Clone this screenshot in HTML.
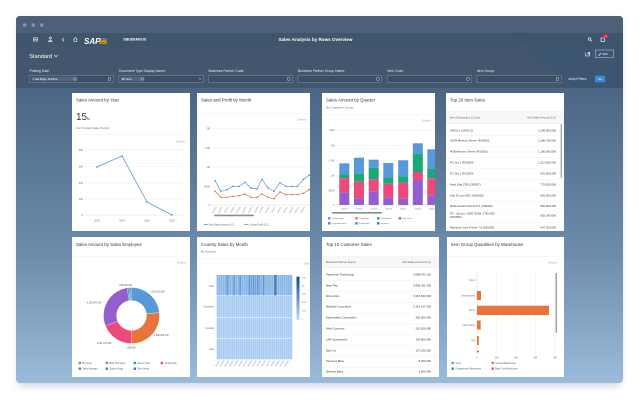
<!DOCTYPE html>
<html><head><meta charset="utf-8">
<style>
html,body{margin:0;padding:0;background:#fff;width:640px;height:400px;overflow:hidden}
svg{display:block}
text{font-family:"Liberation Sans",sans-serif}
.t{font-size:4.4px;fill:#32363a}
.s{font-size:3.1px;fill:#6a6d70}
.ax{font-size:2.5px;fill:#6a6d70}
.d{font-size:3px;fill:#8db0d6}
.lb{font-size:3.4px;fill:#e3e9ef}
.tb{font-size:2.8px;fill:#32363a}
.th{font-size:2.8px;fill:#5b5e61}
.lg{font-size:2.4px;fill:#5b5e61}
.gl{stroke:#e8e8e8;stroke-width:.4}
.rl{stroke:#ececec;stroke-width:.4}
</style></head><body>
<svg width="640" height="400" viewBox="0 0 640 400" xmlns="http://www.w3.org/2000/svg">
<defs>
 <filter id="sh" x="-10%" y="-10%" width="120%" height="130%"><feGaussianBlur stdDeviation="4"/></filter>
 <linearGradient id="cg" gradientUnits="userSpaceOnUse" x1="0" y1="88" x2="0" y2="383">
  <stop offset="0" stop-color="#4b6684"/>
  <stop offset="0.55" stop-color="#6c8bab"/>
  <stop offset="1" stop-color="#9abbd9"/>
 </linearGradient>
 <linearGradient id="hg" x1="0" y1="0" x2="0" y2="1">
  <stop offset="0" stop-color="#0b4a9a"/><stop offset="1" stop-color="#c4dcf6"/>
 </linearGradient>
 <clipPath id="win"><rect x="16" y="16" width="607" height="367" rx="4"/></clipPath>
 <clipPath id="c2"><rect x="197" y="93" width="113" height="138"/></clipPath>
 <clipPath id="c3"><rect x="322" y="93" width="113" height="138"/></clipPath>
 <clipPath id="c4"><rect x="446" y="93" width="118" height="138"/></clipPath>
 <clipPath id="c6"><rect x="197" y="237" width="113" height="140"/></clipPath>
 <pattern id="vl" x="216.7" y="0" width="2.1" height="10" patternUnits="userSpaceOnUse"><rect x="1.75" y="0" width="0.35" height="10" fill="#fff" opacity=".6"/></pattern>
</defs>

<!-- window shadow -->
<rect x="18" y="20" width="603" height="366" rx="5" fill="#8ea3b8" opacity=".45" filter="url(#sh)"/>

<g clip-path="url(#win)">
 <rect x="16" y="16" width="607" height="367" fill="url(#cg)"/>
 <rect x="16" y="16" width="607" height="72" fill="#42576e"/>
 <polygon points="515,33 623,33 623,88 575,88 540,60" fill="#3a5472" opacity=".7"/>
 <rect x="16" y="16" width="607" height="17" fill="#4c6178"/>
 <rect x="16" y="33" width="607" height="13" fill="#3e5369" opacity=".6"/>
</g>

<!-- title bar dots -->
<circle cx="24.7" cy="25" r="1.8" fill="#8796a8"/>
<circle cx="33.3" cy="25" r="1.8" fill="#8796a8"/>
<circle cx="41.7" cy="25" r="1.8" fill="#8796a8"/>

<!-- shell bar -->
<g stroke="#fff" stroke-width=".6" fill="none">
 <rect x="33.6" y="37.8" width="3.8" height="3.2"/>
 <line x1="33.6" y1="39.2" x2="37.4" y2="39.2"/>
 <circle cx="50.3" cy="38" r="1.1"/>
 <path d="M48.4,41.6 Q50.3,38.6 52.2,41.6 Z"/>
 <polyline points="64,37.8 62.3,39.6 64,41.4"/>
 <path d="M73.5,39.5 L75.4,37.6 L77.3,39.5 M74,39.2 V41.5 H76.8 V39.2"/>
</g>
<text x="84" y="44" font-size="8" font-weight="bold" fill="#fff" font-style="italic">SAP</text>
<text x="100" y="39.6" font-size="1.8" fill="#e8eef4">Business</text>
<rect x="99.6" y="40.4" width="7" height="3.6" fill="#f0ab00"/>
<text x="100.2" y="43.4" font-size="3" fill="#2a3440" font-weight="bold">One</text>
<text x="123.3" y="40.6" font-size="3.5" font-weight="bold" fill="#fff">SBODEMOUS</text>
<text x="315.5" y="41.2" font-size="4.6" font-weight="bold" fill="#fff" text-anchor="middle">Sales Analysis by Rows Overview</text>
<g stroke="#fff" stroke-width=".6" fill="none">
 <circle cx="589.6" cy="39" r="1.3"/>
 <line x1="590.6" y1="40" x2="592" y2="41.4"/>
 <rect x="601" y="38" width="3.4" height="3.6"/>
 <polyline points="585.5,52.6 585.5,56 589.5,56 589.5,54"/>
 <polyline points="587.5,52.4 589.8,52.4 589.8,54.6"/>
 <line x1="587.5" y1="54.6" x2="589.8" y2="52.4"/>
</g>
<circle cx="605.7" cy="36" r="2.3" fill="#e0262f"/>
<text x="605.7" y="36.8" font-size="1.9" fill="#fff" text-anchor="middle">99</text>
<rect x="595.3" y="50" width="18" height="7.3" fill="none" stroke="#c3cfdb" stroke-width=".5"/>
<path d="M598.5,55.8 L601,53.2" stroke="#fff" stroke-width=".7"/>
<text x="602.5" y="55" font-size="3" fill="#fff">Edit</text>

<text x="29.3" y="58.2" font-size="5.6" fill="#fff">Standard</text>
<polyline points="54.3,55 56,56.8 57.7,55" fill="none" stroke="#fff" stroke-width=".6"/>

<!-- filters -->
<text x="29.5" y="72" class="lb">Posting Date:</text>
<text x="119" y="72" class="lb">Document Type Display Name:</text>
<text x="208.5" y="72" class="lb">Business Partner Code:</text>
<text x="298" y="72" class="lb">Business Partner Group Name:</text>
<text x="387.5" y="72" class="lb">Item Code:</text>
<text x="477" y="72" class="lb">Item Group:</text>
<g fill="#3a4e64" stroke="#8799ad" stroke-width=".45">
 <rect x="29.3" y="75.5" width="84.5" height="7"/>
 <rect x="119" y="75.5" width="84.5" height="7"/>
 <rect x="208.5" y="75.5" width="84" height="7"/>
 <rect x="298" y="75.5" width="83.5" height="7"/>
 <rect x="387.3" y="75.5" width="84.5" height="7"/>
 <rect x="477" y="75.5" width="84.5" height="7"/>
</g>
<rect x="31.3" y="76.8" width="46" height="4.4" rx="1" fill="#52677e"/>
<text x="32.5" y="80" font-size="2.4" fill="#fff">1 Year Begin - Month E...</text>
<circle cx="75" cy="79" r="1.2" fill="none" stroke="#dfe6ee" stroke-width=".4"/>
<rect x="120.5" y="76.8" width="24" height="4.4" rx="1" fill="#52677e"/>
<text x="121.8" y="80" font-size="2.4" fill="#fff">bill: docu...</text>
<circle cx="142.3" cy="79" r="1.2" fill="none" stroke="#dfe6ee" stroke-width=".4"/>
<polyline points="198.5,78.2 200,79.6 201.5,78.2" fill="none" stroke="#dfe6ee" stroke-width=".5"/>
<g fill="none" stroke="#dfe6ee" stroke-width=".45">
 <rect x="108.2" y="77.4" width="2.6" height="3" rx=".8"/>
 <rect x="287.4" y="77.4" width="2.6" height="3" rx=".8"/>
 <rect x="376.6" y="77.4" width="2.6" height="3" rx=".8"/>
 <rect x="466.6" y="77.4" width="2.6" height="3" rx=".8"/>
 <rect x="556.2" y="77.4" width="2.6" height="3" rx=".8"/>
</g>
<text x="568.3" y="80" font-size="3.2" fill="#e3e9ef">Adapt Filters:</text>
<rect x="595" y="75.7" width="10.2" height="6.6" fill="#3b8ad8"/>
<text x="600.1" y="80.1" font-size="2.9" fill="#fff" text-anchor="middle">Go</text>

<!-- ============ CARD 1 ============ -->
<rect x="72" y="93" width="118" height="138" fill="#fff"/>
<text x="76" y="101.7" class="t">Sales Amount by Year</text>
<text x="76" y="120" font-size="10" fill="#32363a">15</text>
<text x="87" y="120" font-size="3.2" fill="#32363a">M</text>
<text x="76" y="129" class="s">For Posting Date Period</text>
<line x1="72" y1="134.5" x2="190" y2="134.5" class="rl"/>
<text x="185" y="142.5" class="d" text-anchor="end">Details</text>
<g class="gl"><line x1="85" y1="150" x2="184" y2="150"/><line x1="85" y1="166.7" x2="184" y2="166.7"/><line x1="85" y1="183" x2="184" y2="183"/><line x1="85" y1="199" x2="184" y2="199"/></g>
<line x1="85" y1="215" x2="184" y2="215" stroke="#d5d5d5" stroke-width=".4"/>
<g class="ax" text-anchor="end"><text x="83" y="151">800</text><text x="83" y="167.7">600</text><text x="83" y="184">400</text><text x="83" y="200">200</text><text x="83" y="216">0</text></g>
<polyline points="97,167 122,156 147,202 172,215" fill="none" stroke="#5899da" stroke-width=".8"/>
<g fill="#5899da"><circle cx="97" cy="167" r=".9"/><circle cx="122" cy="156" r=".9"/><circle cx="147" cy="202" r=".9"/><circle cx="172" cy="215" r=".9"/></g>
<g class="ax" text-anchor="middle"><text x="97" y="221.5">2018</text><text x="122" y="221.5">2019</text><text x="147" y="221.5">2020</text><text x="172" y="221.5">2021</text></g>

<!-- ============ CARD 2 ============ -->
<rect x="197" y="93" width="113" height="138" fill="#fff"/>
<g clip-path="url(#c2)">
<text x="201" y="101.7" class="t">Sales and Profit by Month</text>
<line x1="197" y1="113.5" x2="310" y2="113.5" class="rl"/>
<text x="306" y="120.5" class="d" text-anchor="end">Details</text>
<g class="gl"><line x1="212" y1="128.7" x2="310" y2="128.7"/><line x1="212" y1="148" x2="310" y2="148"/><line x1="212" y1="167" x2="310" y2="167"/><line x1="212" y1="186.7" x2="310" y2="186.7"/></g>
<line x1="212" y1="205" x2="310" y2="205" stroke="#d5d5d5" stroke-width=".4"/>
<g class="ax" text-anchor="end"><text x="210" y="129.7">2M</text><text x="210" y="149">1.5M</text><text x="210" y="168">1M</text><text x="210" y="187.7">500K</text><text x="210" y="206">0</text></g>
<polyline points="215,180.7 221,191.3 227,189.7 233,186.3 239,186.3 245,182.3 251,188 257,189 262,179.3 268,188 274,191.3 280,182.7 286,186.3 292,186.3 297.5,186.3 303.5,179.3 309,175.3 313,172" fill="none" stroke="#5899da" stroke-width=".7"/>
<g fill="#5899da"><circle cx="215" cy="180.7" r=".85"/><circle cx="221" cy="191.3" r=".85"/><circle cx="227" cy="189.7" r=".85"/><circle cx="233" cy="186.3" r=".85"/><circle cx="239" cy="186.3" r=".85"/><circle cx="245" cy="182.3" r=".85"/><circle cx="251" cy="188" r=".85"/><circle cx="257" cy="189" r=".85"/><circle cx="262" cy="179.3" r=".85"/><circle cx="268" cy="188" r=".85"/><circle cx="274" cy="191.3" r=".85"/><circle cx="280" cy="182.7" r=".85"/><circle cx="286" cy="186.3" r=".85"/><circle cx="292" cy="186.3" r=".85"/><circle cx="297.5" cy="186.3" r=".85"/><circle cx="303.5" cy="179.3" r=".85"/><circle cx="309" cy="175.3" r=".85"/></g>
<polyline points="215,191.3 221,197.3 227,197.3 233,196.3 239,195.7 245,194 251,197.3 257,197.3 262,194 268,197.3 274,198.7 280,192 286,194.7 292,194.7 297.5,194.7 303.5,193.3 309,189.7 313,187" fill="none" stroke="#e8743b" stroke-width=".7"/>
<g fill="#e8743b"><circle cx="215" cy="191.3" r=".85"/><circle cx="221" cy="197.3" r=".85"/><circle cx="227" cy="197.3" r=".85"/><circle cx="233" cy="196.3" r=".85"/><circle cx="239" cy="195.7" r=".85"/><circle cx="245" cy="194" r=".85"/><circle cx="251" cy="197.3" r=".85"/><circle cx="257" cy="197.3" r=".85"/><circle cx="262" cy="194" r=".85"/><circle cx="268" cy="197.3" r=".85"/><circle cx="274" cy="198.7" r=".85"/><circle cx="280" cy="192" r=".85"/><circle cx="286" cy="194.7" r=".85"/><circle cx="292" cy="194.7" r=".85"/><circle cx="297.5" cy="194.7" r=".85"/><circle cx="303.5" cy="193.3" r=".85"/><circle cx="309" cy="189.7" r=".85"/></g>
<g font-size="1.9" fill="#777" text-anchor="end">
<text transform="translate(216.5,207.3) rotate(-60)">2019/01</text>
<text transform="translate(222.5,207.3) rotate(-60)">2019/02</text>
<text transform="translate(228.5,207.3) rotate(-60)">2019/03</text>
<text transform="translate(234.5,207.3) rotate(-60)">2019/04</text>
<text transform="translate(240.5,207.3) rotate(-60)">2019/05</text>
<text transform="translate(246.5,207.3) rotate(-60)">2019/06</text>
<text transform="translate(252.5,207.3) rotate(-60)">2019/07</text>
<text transform="translate(258.5,207.3) rotate(-60)">2019/08</text>
<text transform="translate(263.5,207.3) rotate(-60)">2019/09</text>
<text transform="translate(269.5,207.3) rotate(-60)">2019/10</text>
<text transform="translate(275.5,207.3) rotate(-60)">2019/11</text>
<text transform="translate(281.5,207.3) rotate(-60)">2019/12</text>
<text transform="translate(287.5,207.3) rotate(-60)">2020/01</text>
<text transform="translate(293.5,207.3) rotate(-60)">2020/02</text>
<text transform="translate(299,207.3) rotate(-60)">2020/03</text>
<text transform="translate(305,207.3) rotate(-60)">2020/04</text>
</g>
<rect x="214" y="214.6" width="40" height="1.6" rx=".8" fill="#8c8c8c"/>
<line x1="203.5" y1="224.5" x2="208.5" y2="224.5" stroke="#5899da" stroke-width=".6"/><circle cx="206" cy="224.5" r=".8" fill="#5899da"/>
<text x="209.5" y="225.5" class="lg">Net Sales Amount (LC)</text>
<line x1="244" y1="224.5" x2="249" y2="224.5" stroke="#e8743b" stroke-width=".6"/><circle cx="246.5" cy="224.5" r=".8" fill="#e8743b"/>
<text x="250.5" y="225.5" class="lg">Gross Profit (LC)</text>
</g>

<!-- ============ CARD 3 ============ -->
<rect x="322" y="93" width="113" height="138" fill="#fff"/>
<g clip-path="url(#c3)">
<text x="326" y="101.7" class="t">Sales Amount by Quarter</text>
<text x="326" y="108.7" class="s" font-size="2.9">By Customer Group</text>
<line x1="322" y1="114.5" x2="435" y2="114.5" class="rl"/>
<text x="431" y="121.5" class="d" text-anchor="end">Details</text>
<g class="gl"><line x1="335.5" y1="130" x2="435" y2="130"/><line x1="335.5" y1="145.3" x2="435" y2="145.3"/><line x1="335.5" y1="160.3" x2="435" y2="160.3"/><line x1="335.5" y1="175.3" x2="435" y2="175.3"/><line x1="335.5" y1="190.3" x2="435" y2="190.3"/></g>
<line x1="335.5" y1="205" x2="435" y2="205" stroke="#d5d5d5" stroke-width=".4"/>
<g class="ax" text-anchor="end" font-size="2.3"><text x="334.5" y="131">2.5M</text><text x="334.5" y="146.3">2M</text><text x="334.5" y="161.3">1.5M</text><text x="334.5" y="176.3">1M</text><text x="334.5" y="191.3">500K</text><text x="334.5" y="206">0</text></g>
<!-- bars: blue, green, pink, purple -->
<g>
 <rect x="339.3" y="163.3" width="10" height="11" fill="#5899da"/><rect x="339.3" y="174.3" width="10" height="4" fill="#19a979"/><rect x="339.3" y="178.3" width="10" height="14" fill="#ed4a7b"/><rect x="339.3" y="192.3" width="10" height="12.7" fill="#945ecf"/>
 <rect x="354" y="157.7" width="10" height="16" fill="#5899da"/><rect x="354" y="173.7" width="10" height="8" fill="#19a979"/><rect x="354" y="181.7" width="10" height="16.6" fill="#ed4a7b"/><rect x="354" y="198.3" width="10" height="6.7" fill="#945ecf"/>
 <rect x="368.7" y="159.7" width="10" height="8" fill="#5899da"/><rect x="368.7" y="167.7" width="10" height="11.6" fill="#19a979"/><rect x="368.7" y="179.3" width="10" height="12" fill="#ed4a7b"/><rect x="368.7" y="191.3" width="10" height="13.7" fill="#945ecf"/>
 <rect x="383.3" y="163" width="10" height="15" fill="#5899da"/><rect x="383.3" y="178" width="10" height="5.7" fill="#19a979"/><rect x="383.3" y="183.7" width="10" height="13.6" fill="#ed4a7b"/><rect x="383.3" y="197.3" width="10" height="7.7" fill="#945ecf"/>
 <rect x="398.2" y="160.3" width="10" height="16" fill="#5899da"/><rect x="398.2" y="176.3" width="10" height="6.4" fill="#19a979"/><rect x="398.2" y="182.7" width="10" height="15.6" fill="#ed4a7b"/><rect x="398.2" y="198.3" width="10" height="6.7" fill="#945ecf"/>
 <rect x="412.8" y="143.3" width="10" height="10.4" fill="#5899da"/><rect x="412.8" y="153.7" width="10" height="18.3" fill="#19a979"/><rect x="412.8" y="172" width="10" height="8" fill="#ed4a7b"/><rect x="412.8" y="180" width="10" height="25" fill="#945ecf"/>
 <rect x="427.3" y="149.3" width="10" height="19.7" fill="#5899da"/><rect x="427.3" y="169" width="10" height="9.3" fill="#19a979"/><rect x="427.3" y="178.3" width="10" height="17.4" fill="#ed4a7b"/><rect x="427.3" y="195.7" width="10" height="9.3" fill="#945ecf"/>
</g>
<g font-size="1.9" fill="#777" text-anchor="middle"><text x="344.3" y="209.3">2019Q1</text><text x="359" y="209.3">2019Q2</text><text x="373.7" y="209.3">2019Q3</text><text x="388.3" y="209.3">2019Q4</text><text x="403.2" y="209.3">2020Q1</text><text x="417.8" y="209.3">2020Q2</text><text x="432.3" y="209.3">2020Q3</text></g>
<rect x="332" y="212" width="50" height="1.6" rx=".8" fill="#8c8c8c"/>
<g font-size="2.2" fill="#5b5e61">
 <rect x="328" y="217.1" width="2.4" height="2.4" fill="#5899da"/><text x="331.5" y="219.2">Construction</text>
 <rect x="355.3" y="217.1" width="2.4" height="2.4" fill="#e8743b"/><text x="358.8" y="219.2">Customers</text>
 <rect x="377" y="217.1" width="2.4" height="2.4" fill="#19a979"/><text x="380.5" y="219.2">Distributors</text>
 <rect x="398.7" y="217.1" width="2.4" height="2.4" fill="#ed4a7b"/><text x="402.2" y="219.2">High Tech</text>
 <rect x="328" y="222.1" width="2.4" height="2.4" fill="#945ecf"/><text x="331.5" y="224.2">Large Accounts</text>
 <rect x="355.3" y="222.1" width="2.4" height="2.4" fill="#13a4b4"/><text x="358.8" y="224.2">Production</text>
 <rect x="377" y="222.1" width="2.4" height="2.4" fill="#525df4"/><text x="380.5" y="224.2">Services</text>
</g>
</g>

<!-- ============ CARD 4 ============ -->
<rect x="446" y="93" width="118" height="138" fill="#fff"/>
<g clip-path="url(#c4)">
<text x="450" y="101.7" class="t">Top 20 Item Sales</text>
<rect x="446" y="111.5" width="118" height="12" fill="#f7f7f7"/>
<line x1="446" y1="111.5" x2="564" y2="111.5" class="rl"/><line x1="446" y1="123.5" x2="564" y2="123.5" stroke="#e2e2e2" stroke-width=".4"/>
<text x="450" y="118.5" class="th">Item Description &amp; Code</text>
<text x="556" y="118.5" class="th" text-anchor="end">Net Sales Amount (LC)</text>
<g class="rl"><line x1="446" y1="135.8" x2="559" y2="135.8"/><line x1="446" y1="146.5" x2="559" y2="146.5"/><line x1="446" y1="157.3" x2="559" y2="157.3"/><line x1="446" y1="168.3" x2="559" y2="168.3"/><line x1="446" y1="179.3" x2="559" y2="179.3"/><line x1="446" y1="190.3" x2="559" y2="190.3"/><line x1="446" y1="201" x2="559" y2="201"/><line x1="446" y1="211" x2="559" y2="211"/><line x1="446" y1="222.5" x2="559" y2="222.5"/></g>
<g class="tb">
 <text x="450" y="131.3">ANSU-1 (ANSU-1)</text><text x="556" y="131.3" text-anchor="end">1,295,000.000</text>
 <text x="450" y="141.7">32GB Memory Server (P10002)</text><text x="556" y="141.7" text-anchor="end">1,280,750.000</text>
 <text x="450" y="152.3">4GB Memory Server (P10001)</text><text x="556" y="152.3" text-anchor="end">1,160,000.000</text>
 <text x="450" y="163.3">PC Set 2 (P10004)</text><text x="556" y="163.3" text-anchor="end">1,127,560.000</text>
 <text x="450" y="174.3">PC Set 1 (P10003)</text><text x="556" y="174.3" text-anchor="end">970,500.000</text>
 <text x="450" y="185.3">Hard Disk 2TB (C00007)</text><text x="556" y="185.3" text-anchor="end">779,625.000</text>
 <text x="450" y="196.3">Soft N-Com ADC (A00010)</text><text x="556" y="196.3" text-anchor="end">691,350.000</text>
 <text x="450" y="207">Motherboard XConnVT1 (C00002)</text><text x="556" y="207" text-anchor="end">656,500.200</text>
 <text x="450" y="214.5">PC - db.com. DDR 32GB, 2TB HDD</text><text x="450" y="218.2">(P10005)</text><text x="556" y="216.5" text-anchor="end">655,240.000</text>
 <text x="450" y="228.6">Rainbow Color Printer 7.5 (A00005)</text><text x="556" y="228.6" text-anchor="end">547,300.000</text>
</g>
<rect x="560.6" y="124" width="1.5" height="54" rx=".7" fill="#aaa"/>
</g>

<!-- ============ CARD 5 ============ -->
<rect x="72" y="237" width="118" height="140" fill="#fff"/>
<text x="76" y="245.8" class="t">Sales Amount by Sales Employee</text>
<line x1="72" y1="256.7" x2="190" y2="256.7" class="rl"/>
<text x="186" y="263.7" class="d" text-anchor="end">Details</text>
<g stroke="#fff" stroke-width=".3">
 <path d="M131.5,287.5 A28,28 0 0 1 159.35,312.57 L146.42,313.93 A15,15 0 0 0 131.5,300.5 Z" fill="#5899da"/>
 <path d="M159.35,312.57 A28,28 0 0 1 131.5,343.5 L131.5,330.5 A15,15 0 0 0 146.42,313.93 Z" fill="#e8743b"/>
 <path d="M131.5,343.5 A28,28 0 0 1 105.54,325.99 L117.59,321.12 A15,15 0 0 0 131.5,330.5 Z" fill="#ed4a7b"/>
 <path d="M105.54,325.99 A28,28 0 0 1 127.12,287.84 L129.15,300.68 A15,15 0 0 0 117.59,321.12 Z" fill="#945ecf"/>
 <path d="M127.12,287.84 A28,28 0 0 1 128.82,287.63 L130.06,300.57 A15,15 0 0 0 129.15,300.68 Z" fill="#13a4b4"/>
 <path d="M128.82,287.63 A28,28 0 0 1 130.04,287.54 L130.72,300.52 A15,15 0 0 0 130.06,300.57 Z" fill="#19a979"/>
 <path d="M130.04,287.54 A28,28 0 0 1 131.5,287.5 L131.5,300.5 A15,15 0 0 0 130.72,300.52 Z" fill="#525df4"/>
</g>
<g font-size="2.3" fill="#555">
 <text x="119.3" y="285.8">250,000.000</text>
 <text x="150" y="292.4">3,161,003.030</text>
 <text x="86.7" y="303.4">4,140,675.760</text>
 <text x="154" y="335.8">4,996,652.130</text>
 <text x="96.7" y="343.8">2,361,417.500</text>
 <text x="127.3" y="348.5">600,000</text>
</g>
<g font-size="2.3" fill="#5b5e61">
 <rect x="78.6" y="361.8" width="2.4" height="2.4" fill="#5899da"/><text x="82.2" y="364">Bill Jamie</text>
 <rect x="105.6" y="361.8" width="2.4" height="2.4" fill="#e8743b"/><text x="109.2" y="364">Brad Thompson</text>
 <rect x="133.6" y="361.8" width="2.4" height="2.4" fill="#19a979"/><text x="137.2" y="364">James Chan</text>
 <rect x="160.6" y="361.8" width="2.4" height="2.4" fill="#ed4a7b"/><text x="164.2" y="364">Jim Boswick</text>
 <rect x="78.6" y="367.5" width="2.4" height="2.4" fill="#945ecf"/><text x="82.2" y="369.7">Sales Manager</text>
 <rect x="105.6" y="367.5" width="2.4" height="2.4" fill="#13a4b4"/><text x="109.2" y="369.7">Sophie Klogg</text>
 <rect x="133.6" y="367.5" width="2.4" height="2.4" fill="#525df4"/><text x="137.2" y="369.7">Tom Keeng</text>
</g>

<!-- ============ CARD 6 ============ -->
<rect x="197" y="237" width="113" height="140" fill="#fff"/>
<g clip-path="url(#c6)">
<text x="201" y="245.8" class="t">Country Sales by Month</text>
<text x="201" y="252.6" class="s" font-size="2.9">By Amount</text>
<line x1="197" y1="258.3" x2="310" y2="258.3" class="rl"/>
<text x="313" y="264.7" class="d" text-anchor="end">Details</text>
<rect x="216.7" y="275" width="75.6" height="84.3" fill="#a8ccf1"/>
<rect x="216.7" y="275" width="75.6" height="20.7" fill="#87b6e7"/>
<g fill="#5f97d4">
 <rect x="226.5" y="275" width="1.8" height="20.7"/><rect x="233" y="275" width="1.8" height="20.7"/><rect x="239" y="275" width="1.8" height="20.7"/>
 <rect x="248.7" y="275" width="1.8" height="20.7"/><rect x="252.9" y="275" width="1.8" height="20.7"/><rect x="257.1" y="275" width="1.8" height="20.7"/><rect x="262.7" y="275" width="1.8" height="20.7"/>
</g>
<g fill="#74a6de"><rect x="250.8" y="275" width="1.8" height="20.7"/><rect x="255" y="275" width="1.8" height="20.7"/><rect x="259.2" y="275" width="1.8" height="20.7"/></g>
<rect x="274.5" y="275" width="1.8" height="20.7" fill="#1d5aa3"/>
<rect x="216.7" y="275" width="75.6" height="84.3" fill="url(#vl)"/>
<g stroke="#fff" stroke-width=".5"><line x1="216.7" y1="295.7" x2="292.3" y2="295.7"/><line x1="216.7" y1="317.7" x2="292.3" y2="317.7"/><line x1="216.7" y1="338.3" x2="292.3" y2="338.3"/></g>
<g class="ax" font-size="2.3" text-anchor="end"><text x="214" y="287">USA</text><text x="214" y="307.5">Russland</text><text x="214" y="329">Canada</text><text x="214" y="350">Italy</text></g>
<rect x="296.5" y="276.7" width="3" height="43.3" fill="url(#hg)"/>
<g font-size="2" fill="#777"><text x="301.5" y="278.5">1.5M</text><text x="301.5" y="286.5">1M</text><text x="301.5" y="294.5">750K</text><text x="301.5" y="303">500K</text><text x="301.5" y="311.5">250K</text><text x="301.5" y="320">0</text></g>
<g font-size="1.9" fill="#777" text-anchor="end">
<text transform="translate(220,361) rotate(-55)">2019/01</text>
<text transform="translate(224.6,361) rotate(-55)">2019/02</text>
<text transform="translate(229.2,361) rotate(-55)">2019/03</text>
<text transform="translate(233.8,361) rotate(-55)">2019/04</text>
<text transform="translate(238.4,361) rotate(-55)">2019/05</text>
<text transform="translate(243,361) rotate(-55)">2019/06</text>
<text transform="translate(247.6,361) rotate(-55)">2019/07</text>
<text transform="translate(252.2,361) rotate(-55)">2019/08</text>
<text transform="translate(256.8,361) rotate(-55)">2019/09</text>
<text transform="translate(261.4,361) rotate(-55)">2019/10</text>
<text transform="translate(266,361) rotate(-55)">2019/11</text>
<text transform="translate(270.6,361) rotate(-55)">2019/12</text>
<text transform="translate(275.2,361) rotate(-55)">2020/01</text>
<text transform="translate(279.8,361) rotate(-55)">2020/02</text>
<text transform="translate(284.4,361) rotate(-55)">2020/03</text>
<text transform="translate(289,361) rotate(-55)">2020/04</text>
</g>
</g>

<!-- ============ CARD 7 ============ -->
<rect x="322" y="237" width="117" height="140" fill="#fff"/>
<text x="326" y="245.8" class="t">Top 10 Customer Sales</text>
<rect x="322" y="256.5" width="117" height="11" fill="#f7f7f7"/>
<line x1="322" y1="256.5" x2="439" y2="256.5" class="rl"/><line x1="322" y1="267.5" x2="439" y2="267.5" stroke="#e2e2e2" stroke-width=".4"/>
<text x="326" y="262.9" class="th">Business Partner Name</text>
<text x="431" y="262.9" class="th" text-anchor="end">Net Sales Amount (LC)</text>
<g class="rl"><line x1="322" y1="280.8" x2="439" y2="280.8"/><line x1="322" y1="291.5" x2="439" y2="291.5"/><line x1="322" y1="302.3" x2="439" y2="302.3"/><line x1="322" y1="313.2" x2="439" y2="313.2"/><line x1="322" y1="324.2" x2="439" y2="324.2"/><line x1="322" y1="335" x2="439" y2="335"/><line x1="322" y1="345.8" x2="439" y2="345.8"/><line x1="322" y1="356.7" x2="439" y2="356.7"/><line x1="322" y1="367.3" x2="439" y2="367.3"/></g>
<g class="tb">
 <text x="326" y="275.3">Parameter Technology</text><text x="431" y="275.3" text-anchor="end">3,998,432.130</text>
 <text x="326" y="286.3">Maxi-Pay</text><text x="431" y="286.3" text-anchor="end">3,938,261.300</text>
 <text x="326" y="297">Microchips</text><text x="431" y="297" text-anchor="end">3,361,503.530</text>
 <text x="326" y="307.7">Machita Corporation</text><text x="431" y="307.7" text-anchor="end">2,361,417.500</text>
 <text x="326" y="318.7">Earthshaker Corporation</text><text x="431" y="318.7" text-anchor="end">255,000.000</text>
 <text x="326" y="329.7">Web Customer</text><text x="431" y="329.7" text-anchor="end">220,000.000</text>
 <text x="326" y="340.3">LAR Accessories</text><text x="431" y="340.3" text-anchor="end">165,900.000</text>
 <text x="326" y="351.3">Blue Inc</text><text x="431" y="351.3" text-anchor="end">107,152.000</text>
 <text x="326" y="362">Payment Base</text><text x="431" y="362" text-anchor="end">8,250.000</text>
 <text x="326" y="372.7">Delivery Base</text><text x="431" y="372.7" text-anchor="end">4,800.000</text>
</g>

<!-- ============ CARD 8 ============ -->
<rect x="447" y="237" width="117" height="140" fill="#fff"/>
<text x="451" y="245.8" class="t">Item Group Quantities by Warehouse</text>
<line x1="447" y1="256.5" x2="564" y2="256.5" class="rl"/>
<text x="557" y="263.7" class="d" text-anchor="end">Details</text>
<g class="gl"><line x1="496.7" y1="272" x2="496.7" y2="354"/><line x1="516" y1="272" x2="516" y2="354"/><line x1="535.3" y1="272" x2="535.3" y2="354"/><line x1="555" y1="272" x2="555" y2="354"/></g>
<line x1="477" y1="272" x2="477" y2="354" stroke="#c8c8c8" stroke-width=".4"/>
<g fill="#e8743b">
 <rect x="477" y="291" width="4" height="9"/>
 <rect x="477" y="305.7" width="72" height="9.3"/>
 <rect x="477" y="320.5" width="3.7" height="9"/>
 <rect x="477" y="336" width="1.8" height="9"/>
 <rect x="477" y="350.5" width="2" height="2"/>
</g>
<g class="ax" font-size="2.2" text-anchor="end"><text x="475" y="281">Yours</text><text x="475" y="296.3">Accessories</text><text x="475" y="311">Items</text><text x="475" y="325.8">Ink Printers</text><text x="475" y="341.3">PQ</text></g>
<g class="ax" font-size="2.2" text-anchor="middle"><text x="477" y="358.3">0</text><text x="496.7" y="358.3">1M</text><text x="516" y="358.3">2M</text><text x="535.3" y="358.3">3M</text><text x="555" y="358.3">4M</text></g>
<rect x="555.6" y="273" width="1.3" height="60" rx=".6" fill="#999"/>
<g font-size="2.3" fill="#5b5e61">
 <rect x="451.5" y="361.8" width="2.4" height="2.4" fill="#5899da"/><text x="455.2" y="364">Yours</text>
 <rect x="491.5" y="361.8" width="2.4" height="2.4" fill="#e8743b"/><text x="495.2" y="364">General Warehouse</text>
 <rect x="451.5" y="367.5" width="2.4" height="2.4" fill="#19a979"/><text x="455.2" y="369.7">Consignment Warehouse</text>
 <rect x="491.5" y="367.5" width="2.4" height="2.4" fill="#ed4a7b"/><text x="495.2" y="369.7">Main Cost Warehouse</text>
</g>
</svg>
</body></html>
